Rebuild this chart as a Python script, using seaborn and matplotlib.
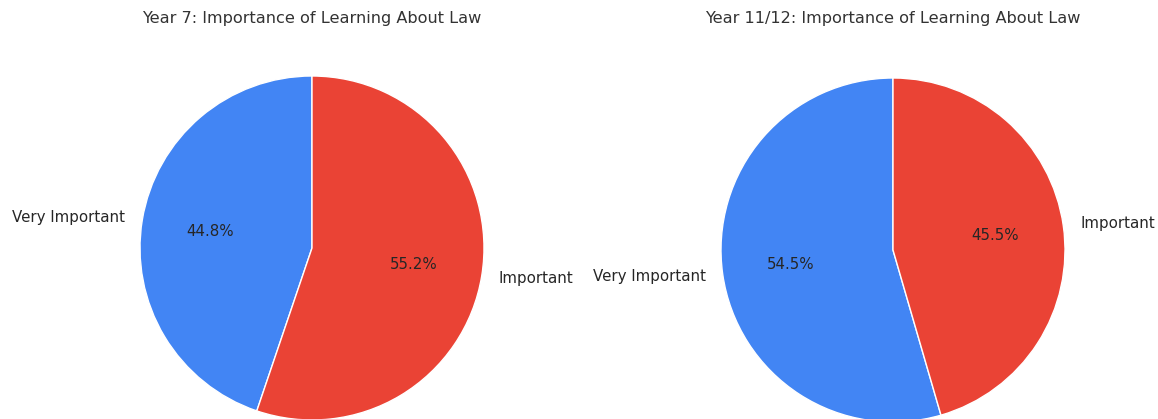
import matplotlib
matplotlib.use("Agg")
import matplotlib.pyplot as plt
import seaborn as sns

# Survey responses: share of students rating learning about law by importance
categories = ["Very Important", "Important"]
year7_share = [44.8, 55.2]
year11_12_share = [54.5, 45.5]
titles = [
    "Year 7: Importance of Learning About Law",
    "Year 11/12: Importance of Learning About Law",
]
colors = ["#4285F4", "#EA4335"]

sns.set_theme(style="whitegrid")
plt.rcParams["font.family"] = ["DejaVu Sans"]

W, H = 1158, 419
fig = plt.figure(figsize=(W / 100, H / 100), dpi=100)

side = 430  # pixel size of each square pie axes (pie radius = side / 2.5)


def add_pie_axes(cx, cy):
    left = (cx - side / 2) / W
    bottom = (H - cy - side / 2) / H
    return fig.add_axes([left, bottom, side / W, side / H])


ax1 = add_pie_axes(312, 248)
ax2 = add_pie_axes(893, 250)

for ax, values, title, pad in zip(
    (ax1, ax2), (year7_share, year11_12_share), titles, (7.2, 8.6)
):
    ax.pie(
        values,
        labels=categories,
        colors=colors,
        autopct="%1.1f%%",
        startangle=90,
        wedgeprops={"edgecolor": "white", "linewidth": 1},
        textprops={"fontsize": 10.8, "color": "#262626"},
    )
    ax.set_title(title, fontsize=11.6, color="#333333", pad=pad)

fig.savefig("out.png", dpi=100)
